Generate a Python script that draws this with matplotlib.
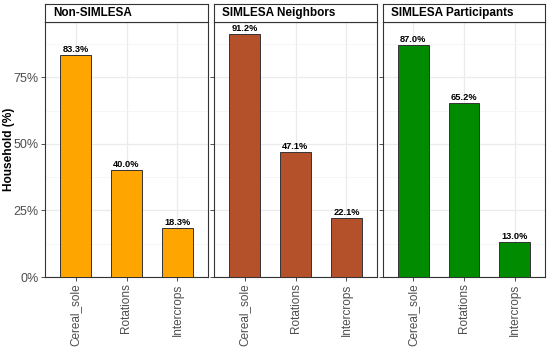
import matplotlib.pyplot as plt
from matplotlib.ticker import FixedLocator

plt.rcParams['font.family'] = ['Liberation Sans', 'DejaVu Sans']

groups = ["Non-SIMLESA", "SIMLESA Neighbors", "SIMLESA Participants"]
practices = ["Cereal_sole", "Rotations", "Intercrops"]
shares = [
    [0.833, 0.400, 0.183],
    [0.912, 0.471, 0.221],
    [0.870, 0.652, 0.130],
]
colors = ["#FFA500", "#B5512A", "#008B00"]

W, H = 550, 349
fig = plt.figure(figsize=(W / 100, H / 100), dpi=100)

panel_x = [(45, 208), (214, 377), (383, 545)]
top, bottom, strip_top = 22, 277, 4
ymax = max(max(s) for s in shares) * 1.05

for i, (grp, vals) in enumerate(zip(groups, shares)):
    x0, x1 = panel_x[i]
    ax = fig.add_axes([x0 / W, 1 - bottom / H, (x1 - x0) / W, (bottom - top) / H])
    xs = range(1, len(practices) + 1)
    ax.bar(xs, vals, width=0.6, color=colors[i], edgecolor="#333333", linewidth=0.7, zorder=3)
    for x, v in zip(xs, vals):
        ax.text(x, v + 0.004, f"{v * 100:.1f}%", ha="center", va="bottom",
                fontsize=6.7, fontweight="bold", color="black", zorder=4)
    ax.set_xlim(0.4, 3.6)
    ax.set_ylim(0, ymax)
    ax.set_xticks(list(xs))
    ax.set_xticklabels(practices, rotation=90, fontsize=8.5, color="#4D4D4D")
    ax.set_yticks([0, 0.25, 0.5, 0.75])
    ax.yaxis.set_minor_locator(FixedLocator([0.125, 0.375, 0.625, 0.875]))
    ax.xaxis.set_minor_locator(FixedLocator([]))
    if i == 0:
        ax.set_yticklabels(["0%", "25%", "50%", "75%"], fontsize=9, color="#4D4D4D")
        ax.set_ylabel("Household (%)", fontsize=8.6, fontweight="bold")
        ax.yaxis.set_label_coords(-30 / (x1 - x0), 0.5)
    else:
        ax.set_yticklabels([])
        ax.tick_params(axis="y", length=0)
    ax.tick_params(axis="both", which="major", length=3, width=0.6, color="#333333", pad=1.5)
    ax.tick_params(axis="both", which="minor", length=0)
    ax.grid(True, which="major", color="#EBEBEB", linewidth=0.9, zorder=0)
    ax.grid(True, which="minor", axis="y", color="#F3F3F3", linewidth=0.5, zorder=0)
    for sp in ax.spines.values():
        sp.set_color("#333333")
        sp.set_linewidth(0.8)
    ax.set_axisbelow(True)

    sax = fig.add_axes([x0 / W, 1 - top / H, (x1 - x0) / W, (top - strip_top) / H])
    sax.set_xticks([])
    sax.set_yticks([])
    for sp in sax.spines.values():
        sp.set_color("#333333")
        sp.set_linewidth(0.8)
    sax.text(8 / (x1 - x0), 0.5, grp, transform=sax.transAxes, ha="left", va="center",
             fontsize=8.5, fontweight="bold", color="black")

fig.savefig("out.png", dpi=100)
